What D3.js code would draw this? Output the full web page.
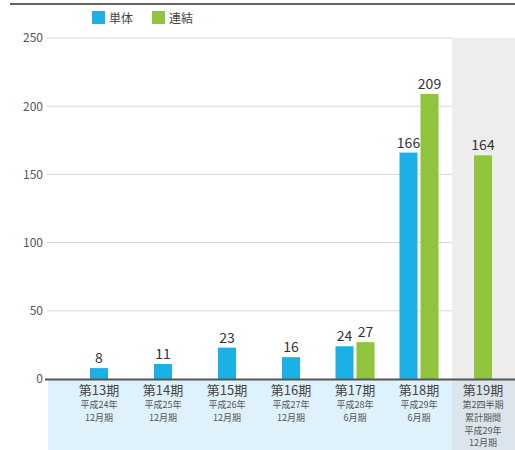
<!DOCTYPE html>
<html><head><meta charset="utf-8">
<script src="https://cdn.jsdelivr.net/npm/d3@7"></script>
<style>body{margin:0;background:#fff}svg{display:block}</style>
</head><body>
<script>
const categories = ["第13期","第14期","第15期","第16期","第17期","第18期","第19期"];
const subLabels = [["平成24年","12月期"],["平成25年","12月期"],["平成26年","12月期"],["平成27年","12月期"],["平成28年","6月期"],["平成29年","6月期"],["第2四半期","累計期間","平成29年","12月期"]];
const tantai = [8, 11, 23, 16, 24, 166, null];
const renketsu = [null, null, null, null, 27, 209, 164];
const yTicks = [0, 50, 100, 150, 200, 250];
const seriesNames = ["単体","連結"];

const W = 515, H = 450;
const blue = "#1bb1e7", green = "#8fc43c";
const font = "'Noto Sans CJK JP', 'Noto Sans', sans-serif";
const svg = d3.select("body").append("svg").attr("width", W).attr("height", H);

const x = d3.scaleBand().domain(categories).range([67, 515]).padding(0);
const y = d3.scaleLinear().domain([0, 250]).range([379, 38]);

svg.append("rect").attr("x", 48).attr("y", 380).attr("width", W - 48).attr("height", H - 380).attr("fill", "#dff1fb");
svg.append("rect").attr("x", 452).attr("y", y(250)).attr("width", W - 452).attr("height", H - y(250)).attr("fill", "#d8d8d8").attr("opacity", 0.45);

svg.append("line").attr("x1", 10).attr("x2", W).attr("y1", 4).attr("y2", 4).attr("stroke", "#666").attr("stroke-width", 2);

const yAxis = d3.axisLeft(y).tickValues(yTicks).tickSize(0).tickPadding(5);
const gy = svg.append("g").attr("transform", "translate(48,0)").call(yAxis);
gy.select(".domain").remove();
gy.selectAll("text").attr("font-family", font).attr("font-size", 12).attr("fill", "#555");
svg.append("g").selectAll("line").data(yTicks.filter(d => d > 0)).join("line")
  .attr("x1", 47).attr("x2", 452).attr("y1", d => y(d)).attr("y2", d => y(d))
  .attr("stroke", "#d6d6d6").attr("stroke-width", 1);

const bw = 18;
function barX(i, s) {
  const c = x(categories[i]) + x.bandwidth() / 2;
  const both = tantai[i] != null && renketsu[i] != null;
  if (!both) return c - bw / 2;
  return s === 0 ? c - bw - 1.5 : c + 1.5;
}
[tantai, renketsu].forEach((arr, s) => {
  const data = arr.map((v, i) => ({v, i})).filter(d => d.v != null);
  svg.append("g").selectAll("rect").data(data).join("rect")
    .attr("x", d => barX(d.i, s)).attr("width", bw)
    .attr("y", d => y(d.v)).attr("height", d => y(0) - y(d.v))
    .attr("fill", s === 0 ? blue : green);
  svg.append("g").selectAll("text").data(data).join("text")
    .attr("x", d => barX(d.i, s) + bw / 2).attr("y", d => y(d.v) - 5)
    .attr("text-anchor", "middle").attr("font-family", font).attr("font-size", 14)
    .attr("fill", "#333").text(d => d.v);
});

svg.append("line").attr("x1", 45).attr("x2", W).attr("y1", 379.5).attr("y2", 379.5).attr("stroke", "#555").attr("stroke-width", 2);

const gx = svg.append("g").selectAll("g").data(categories).join("g")
  .attr("transform", d => `translate(${x(d) + x.bandwidth() / 2},0)`);
gx.append("text").attr("y", 395).attr("text-anchor", "middle").attr("font-family", font)
  .attr("font-size", 13).attr("fill", "#444").text(d => d);
gx.each(function(d, i) {
  d3.select(this).selectAll("text.sub").data(subLabels[i]).join("text").attr("class", "sub")
    .attr("y", (s, j) => 408 + j * 12.8).attr("text-anchor", "middle").attr("font-family", font)
    .attr("font-size", 9).attr("fill", "#555").text(s => s);
});

const leg = svg.append("g").selectAll("g").data(seriesNames).join("g")
  .attr("transform", (d, i) => `translate(${92 + i * 60},11)`);
leg.append("rect").attr("width", 13).attr("height", 13).attr("fill", (d, i) => i === 0 ? blue : green);
leg.append("text").attr("x", 17).attr("y", 11.5).attr("font-family", font).attr("font-size", 12)
  .attr("fill", "#444").text(d => d);
</script>
</body></html>
